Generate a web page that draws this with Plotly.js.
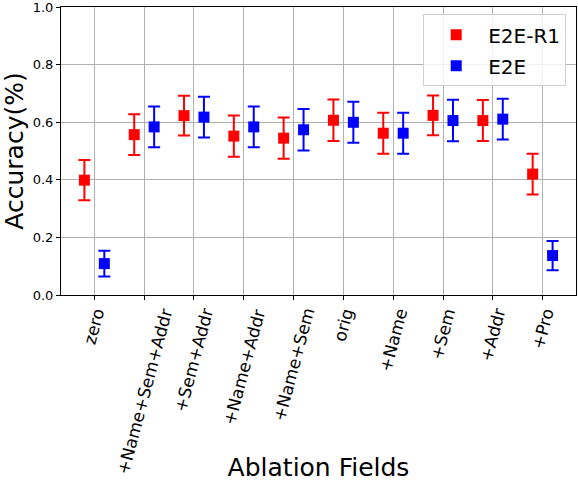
<!DOCTYPE html>
<html>
<head>
<meta charset="utf-8">
<script src="https://cdn.plot.ly/plotly-3.0.1.min.js"></script>
<style>html,body{margin:0;padding:0;background:#fff;}#chart{width:578px;height:482px;}</style>
</head>
<body>
<div id="chart"></div>
<script>
const categories = ["zero", "+Name+Sem+Addr", "+Sem+Addr", "+Name+Addr", "+Name+Sem", "orig", "+Name", "+Sem", "+Addr", "+Pro"];
const e2eR1 = [0.399, 0.557, 0.623, 0.552, 0.545, 0.607, 0.562, 0.624, 0.606, 0.420];
const e2eR1Err = [0.070, 0.071, 0.069, 0.072, 0.072, 0.072, 0.071, 0.069, 0.071, 0.071];
const e2e = [0.109, 0.584, 0.618, 0.584, 0.574, 0.600, 0.562, 0.606, 0.611, 0.137];
const e2eErr = [0.045, 0.071, 0.071, 0.071, 0.072, 0.071, 0.071, 0.072, 0.071, 0.051];
const yTicks = [0, 0.2, 0.4, 0.6, 0.8, 1.0];

const idx = categories.map((_, i) => i);
const shift = 0.2;
const font = "DejaVu Sans, sans-serif";

const traces = [
  {
    x: idx.map(i => i - shift), y: e2eR1, name: "E2E-R1", type: "scatter", mode: "markers",
    legendgroup: "a",
    marker: {symbol: "square", size: 11, color: "#ff0000"},
    error_y: {type: "data", array: e2eR1Err, visible: true, color: "#ff0000", thickness: 2, width: 6}
  },
  {
    x: idx.map(i => i + shift), y: e2e, name: "E2E", type: "scatter", mode: "markers",
    legendgroup: "b",
    marker: {symbol: "square", size: 11, color: "#0000ff"},
    error_y: {type: "data", array: e2eErr, visible: true, color: "#0000ff", thickness: 2, width: 6}
  }
];

// rotated category labels, box-centred on each tick like the original
const tickLabels = categories.map((c, i) => ({
  x: i, y: 0, xref: "x", yref: "paper",
  text: c, showarrow: false, textangle: -75,
  xanchor: "center", yanchor: "top", yshift: -9,
  font: {family: font, size: 17, color: "#000"}
}));

const layout = {
  width: 578, height: 482,
  margin: {l: 61, r: 2, t: 7, b: 187},
  paper_bgcolor: "#fff", plot_bgcolor: "#fff",
  font: {family: font, color: "#000", size: 13},
  showlegend: true,
  legend: {
    x: 0.981, y: 0.975, xanchor: "right", yanchor: "top",
    bgcolor: "rgba(255,255,255,0.8)", bordercolor: "#d0d0d0", borderwidth: 1,
    font: {family: font, size: 20, color: "#000"},
    tracegroupgap: 2, itemwidth: 54
  },
  annotations: tickLabels,
  xaxis: {
    range: [-0.67, 9.67],
    tickmode: "array", tickvals: idx, showticklabels: false,
    showgrid: true, gridcolor: "#b0b0b0", gridwidth: 1,
    zeroline: false, showline: true, linecolor: "#000", linewidth: 1, mirror: true,
    ticks: "outside", ticklen: 4, tickcolor: "#000",
    title: {text: "Ablation Fields", font: {family: font, size: 25}, standoff: 164}
  },
  yaxis: {
    range: [0, 1.0005],
    tickmode: "array", tickvals: yTicks, tickformat: ".1f",
    ticklabeloverflow: "allow",
    showgrid: true, gridcolor: "#b0b0b0", gridwidth: 1,
    zeroline: false, showline: true, linecolor: "#000", linewidth: 1, mirror: true,
    ticks: "outside", ticklen: 4, tickcolor: "#000",
    tickfont: {family: font, size: 13},
    title: {text: "Accuracy(%)", font: {family: font, size: 25}, standoff: 6}
  }
};

Plotly.newPlot("chart", traces, layout, {displayModeBar: false, staticPlot: true});
</script>
</body>
</html>
